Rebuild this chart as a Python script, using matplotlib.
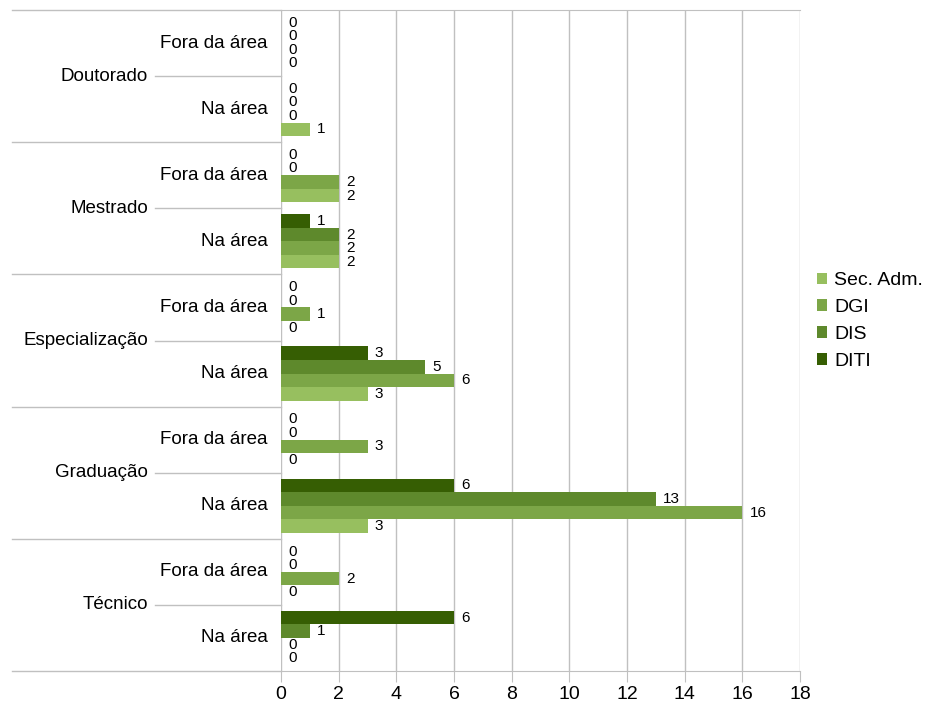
import matplotlib
matplotlib.use("Agg")
import matplotlib.pyplot as plt
from matplotlib.transforms import blended_transform_factory

plt.rcParams['font.family'] = ['Liberation Sans', 'DejaVu Sans']

# níveis e subcategorias (de cima para baixo)
levels = ['Doutorado', 'Mestrado', 'Especialização', 'Graduação', 'Técnico']
subcats = ['Fora da área', 'Na área']

series = ['Sec. Adm.', 'DGI', 'DIS', 'DITI']
colors = ['#97bf5f', '#7ca647', '#5e892c', '#365e03']

# valores por subcategoria, na ordem: Doutorado/Fora, Doutorado/Na, Mestrado/Fora, ...
sec_adm = [0, 1, 2, 2, 0, 3, 0, 3, 0, 0]
dgi = [0, 0, 2, 2, 1, 6, 3, 16, 2, 0]
dis = [0, 0, 0, 2, 0, 5, 0, 13, 0, 1]
diti = [0, 0, 0, 1, 0, 3, 0, 6, 0, 6]
values = [sec_adm, dgi, dis, diti]

fig = plt.figure(figsize=(9.3, 7.04), dpi=100)
ax = fig.add_axes([281 / 930, 1 - 671 / 704, 519 / 930, 661 / 704])

n = len(sec_adm)
bar_h = 0.205
grid_c = '#c0c0c0'

for k, (name, vals, c) in enumerate(zip(series, values, colors)):
    # Sec. Adm. fica embaixo, DITI em cima
    off = (1.5 - k) * bar_h
    ys = [i + off for i in range(n)]
    ax.barh(ys, vals, height=bar_h, color=c, label=name, zorder=3)
    for y, v in zip(ys, vals):
        ax.text(v + 0.25, y, str(v), va='center', ha='left', fontsize=11, zorder=4)

ax.set_xlim(0, 18)
ax.set_ylim(n - 0.5, -0.5)
ax.set_xticks(range(0, 19, 2))
ax.tick_params(axis='x', length=8, color=grid_c, labelsize=14, pad=3)
ax.set_yticks([])
ax.grid(axis='x', color=grid_c, linewidth=1, zorder=0)
for s in ['left', 'right']:
    ax.spines[s].set_visible(False)
for s in ['top', 'bottom']:
    ax.spines[s].set_color(grid_c)

# eixo de categorias aninhado
tr = blended_transform_factory(ax.transAxes, ax.transData)
x_far = (12 - 281) / 519
x_major_lbl = (148 - 281) / 519
x_minor_line = (155 - 281) / 519
x_minor_lbl = (268 - 281) / 519

for j, lev in enumerate(levels):
    y_top = 2 * j - 0.5
    mid = 2 * j + 0.5
    ax.plot([x_far, 0], [y_top, y_top], color=grid_c, lw=1, transform=tr, clip_on=False)
    ax.plot([x_minor_line, 0], [mid, mid], color=grid_c, lw=1, transform=tr, clip_on=False)
    ax.text(x_major_lbl, mid, lev, ha='right', va='center', fontsize=13.5, transform=tr)
    for m, sub in enumerate(subcats):
        ax.text(x_minor_lbl, 2 * j + m, sub, ha='right', va='center', fontsize=13.5, transform=tr)
ax.plot([x_far, 0], [n - 0.5, n - 0.5], color=grid_c, lw=1, transform=tr, clip_on=False)

handles, labels = ax.get_legend_handles_labels()
fig.legend(handles, labels, loc='center left', bbox_to_anchor=(799 / 930, 1 - 321 / 704),
           frameon=False, fontsize=14, handlelength=0.55, handleheight=0.55,
           handletextpad=0.35, labelspacing=0.5)

fig.savefig('out.png', dpi=100)
